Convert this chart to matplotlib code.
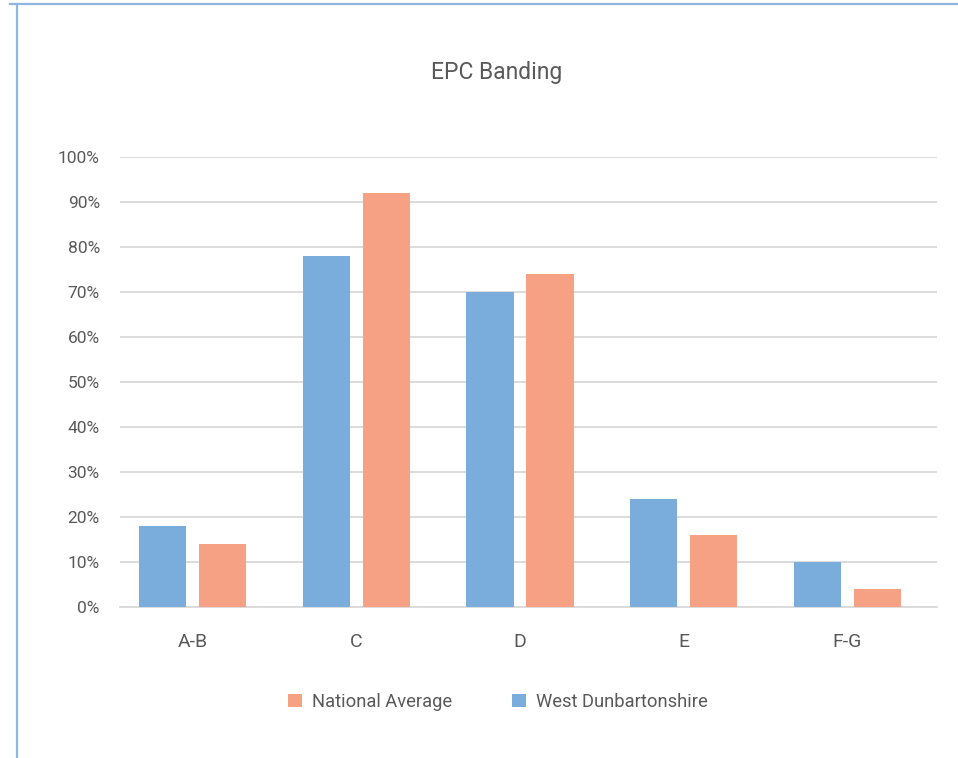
import matplotlib
matplotlib.use("Agg")
import matplotlib.pyplot as plt
from matplotlib.patches import Patch
from matplotlib.lines import Line2D
import numpy as np

categories = ["A-B", "C", "D", "E", "F-G"]
west_dunbartonshire = [18, 78, 70, 24, 10]
national_average = [14, 92, 74, 16, 4]
y_ticks = [0, 10, 20, 30, 40, 50, 60, 70, 80, 90, 100]
y_tick_labels = [f"{t}%" for t in y_ticks]

BLUE = "#7BADDC"
ORANGE = "#F7A184"
TEXT = "#595959"
GRID = "#D9D9D9"
FRAME = "#8DB6E2"

plt.rcParams["font.family"] = ["Roboto", "DejaVu Sans"]

fig = plt.figure(figsize=(9.58, 7.58), dpi=100)
ax = fig.add_axes([120 / 958, 1 - 607 / 758, 817 / 958, 450 / 758])

x = np.arange(len(categories))
width = 0.288
offset = 0.183
ax.bar(x - offset, west_dunbartonshire, width, color=BLUE, zorder=3)
ax.bar(x + offset, national_average, width, color=ORANGE, zorder=3)

ax.set_ylim(0, 100)
ax.set_xlim(-0.443, 4.547)
ax.set_yticks(y_ticks)
ax.set_yticklabels(y_tick_labels)
ax.set_xticks(x)
ax.set_xticklabels(categories)
ax.yaxis.grid(True, color=GRID, linewidth=1.3, zorder=0)
ax.set_axisbelow(True)
for side in ["top", "right", "left"]:
    ax.spines[side].set_visible(False)
ax.spines["bottom"].set_color(GRID)
ax.spines["bottom"].set_linewidth(1.3)
ax.tick_params(axis="y", length=0, pad=14.5, labelsize=12.5, labelcolor=TEXT)
ax.tick_params(axis="x", length=0, pad=18.5, labelsize=14, labelcolor=TEXT)

fig.text(497 / 958, 1 - 72 / 758, "EPC Banding", ha="center", va="center",
         fontsize=16.5, color=TEXT)

handles = [Patch(facecolor=ORANGE, edgecolor="none", label="National Average"),
           Patch(facecolor=BLUE, edgecolor="none", label="West Dunbartonshire")]
leg = fig.legend(handles=handles, loc="center", bbox_to_anchor=(498 / 958, 1 - 702 / 758),
                 ncol=2, frameon=False, fontsize=13.2, handlelength=0.75, handleheight=0.75,
                 handletextpad=0.55, columnspacing=3.3)
for t in leg.get_texts():
    t.set_color(TEXT)

# light blue frame along the top and left edges
fig.add_artist(Line2D([10 / 958, 1.0], [1 - 4 / 758, 1 - 4 / 758],
                      transform=fig.transFigure, color=FRAME, linewidth=1.6))
fig.add_artist(Line2D([17 / 958, 17 / 958], [1 - 4 / 758, 0.0],
                      transform=fig.transFigure, color=FRAME, linewidth=1.6))

fig.savefig("out.png", dpi=100)
